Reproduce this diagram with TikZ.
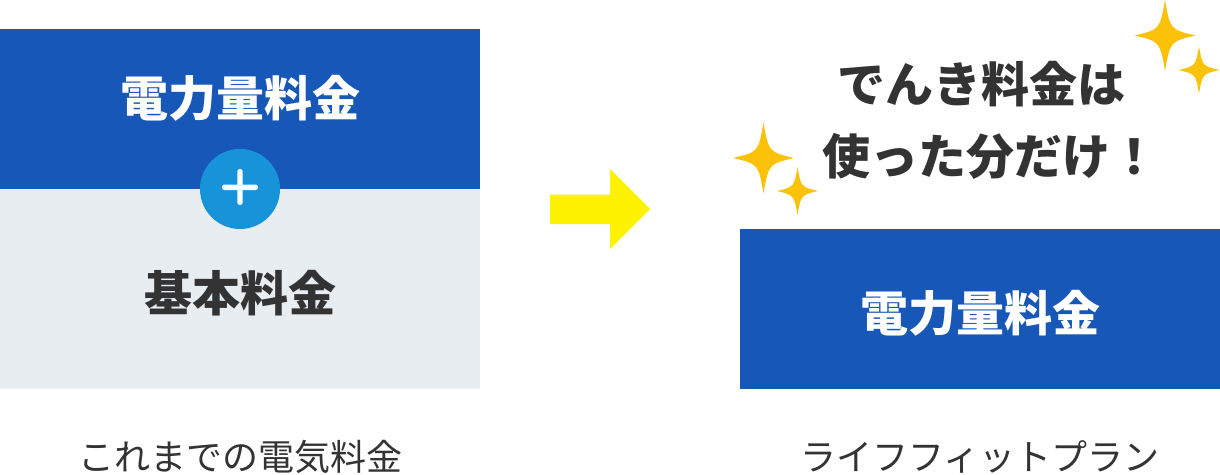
\documentclass[tikz,border=0pt]{standalone}
\usepackage{fontspec}
\setmainfont{Noto Sans CJK JP}
\newfontfamily\heavyjp{Noto Sans CJK JP Black}
\definecolor{dblue}{HTML}{1757B8}
\definecolor{lgray}{HTML}{E8EDF2}
\definecolor{cblue}{HTML}{1794D9}
\definecolor{ytxt}{HTML}{FFF200}
\definecolor{gold}{HTML}{FBC209}
\definecolor{ink}{HTML}{333333}
\tikzset{
 x=1pt,y=-1pt,
 bigtext/.style={font=\fontsize{48}{48}\selectfont\bfseries,inner sep=0,anchor=center},
 headtext/.style={font=\fontsize{48}{48}\selectfont\heavyjp,text=ink,inner sep=0,anchor=center},
 captext/.style={font=\fontsize{36}{36}\selectfont,text=ink,inner sep=0,anchor=center}
}
\newcommand{\sparkle}[4]{%
 \fill[gold] (#1-#3,#2) .. controls (#1-0.17*#3,#2-0.17*#4) .. (#1,#2-#4) .. controls (#1+0.17*#3,#2-0.17*#4) .. (#1+#3,#2) .. controls (#1+0.17*#3,#2+0.17*#4) .. (#1,#2+#4) .. controls (#1-0.17*#3,#2+0.17*#4) .. cycle;}
\begin{document}
\begin{tikzpicture}
\useasboundingbox (0,0) rectangle (1220,474);
\node[fill=dblue,minimum width=480,minimum height=160,inner sep=0,anchor=north west] (top) at (0,29) {};
\node[fill=lgray,minimum width=480,minimum height=200,inner sep=0,anchor=north west] (base) at (0,189) {};
\node[bigtext,text=white] (t1) at (240,98.5) {電力量料金};
\node[bigtext,text=ink] (t2) at (240,293.5) {基本料金};
\node[circle,fill=cblue,minimum size=80,inner sep=0] (plus) at (240,189) {};
\fill[white,rounded corners=2.5] (222,184.5) rectangle (258,190);
\fill[white,rounded corners=2.5] (237.3,169) rectangle (242.7,205);
\node[fill=dblue,minimum width=480,minimum height=160,inner sep=0,anchor=north west] (right) at (740,229) {};
\node[bigtext,text=white] (t3) at (980,313.5) {電力量料金};
\fill[ytxt] (550,194.5) -- (610,194.5) -- (610,169) -- (650,209) -- (610,249) -- (610,224) -- (550,224) -- cycle;
\node[headtext] (h1) at (981,84) {でんき料金は};
\node[headtext] (h2) at (990,156) {使った分だけ！};
\node[captext] (c1) at (240,457) {これまでの電気料金};
\node[captext] (c2) at (980,457) {ライフフィットプラン};
\sparkle{1165}{35.5}{30.5}{35.5}
\sparkle{1199}{70}{20.5}{23.5}
\sparkle{763.5}{158}{30.5}{35.5}
\sparkle{797.5}{191}{20.5}{24}
\end{tikzpicture}
\end{document}
